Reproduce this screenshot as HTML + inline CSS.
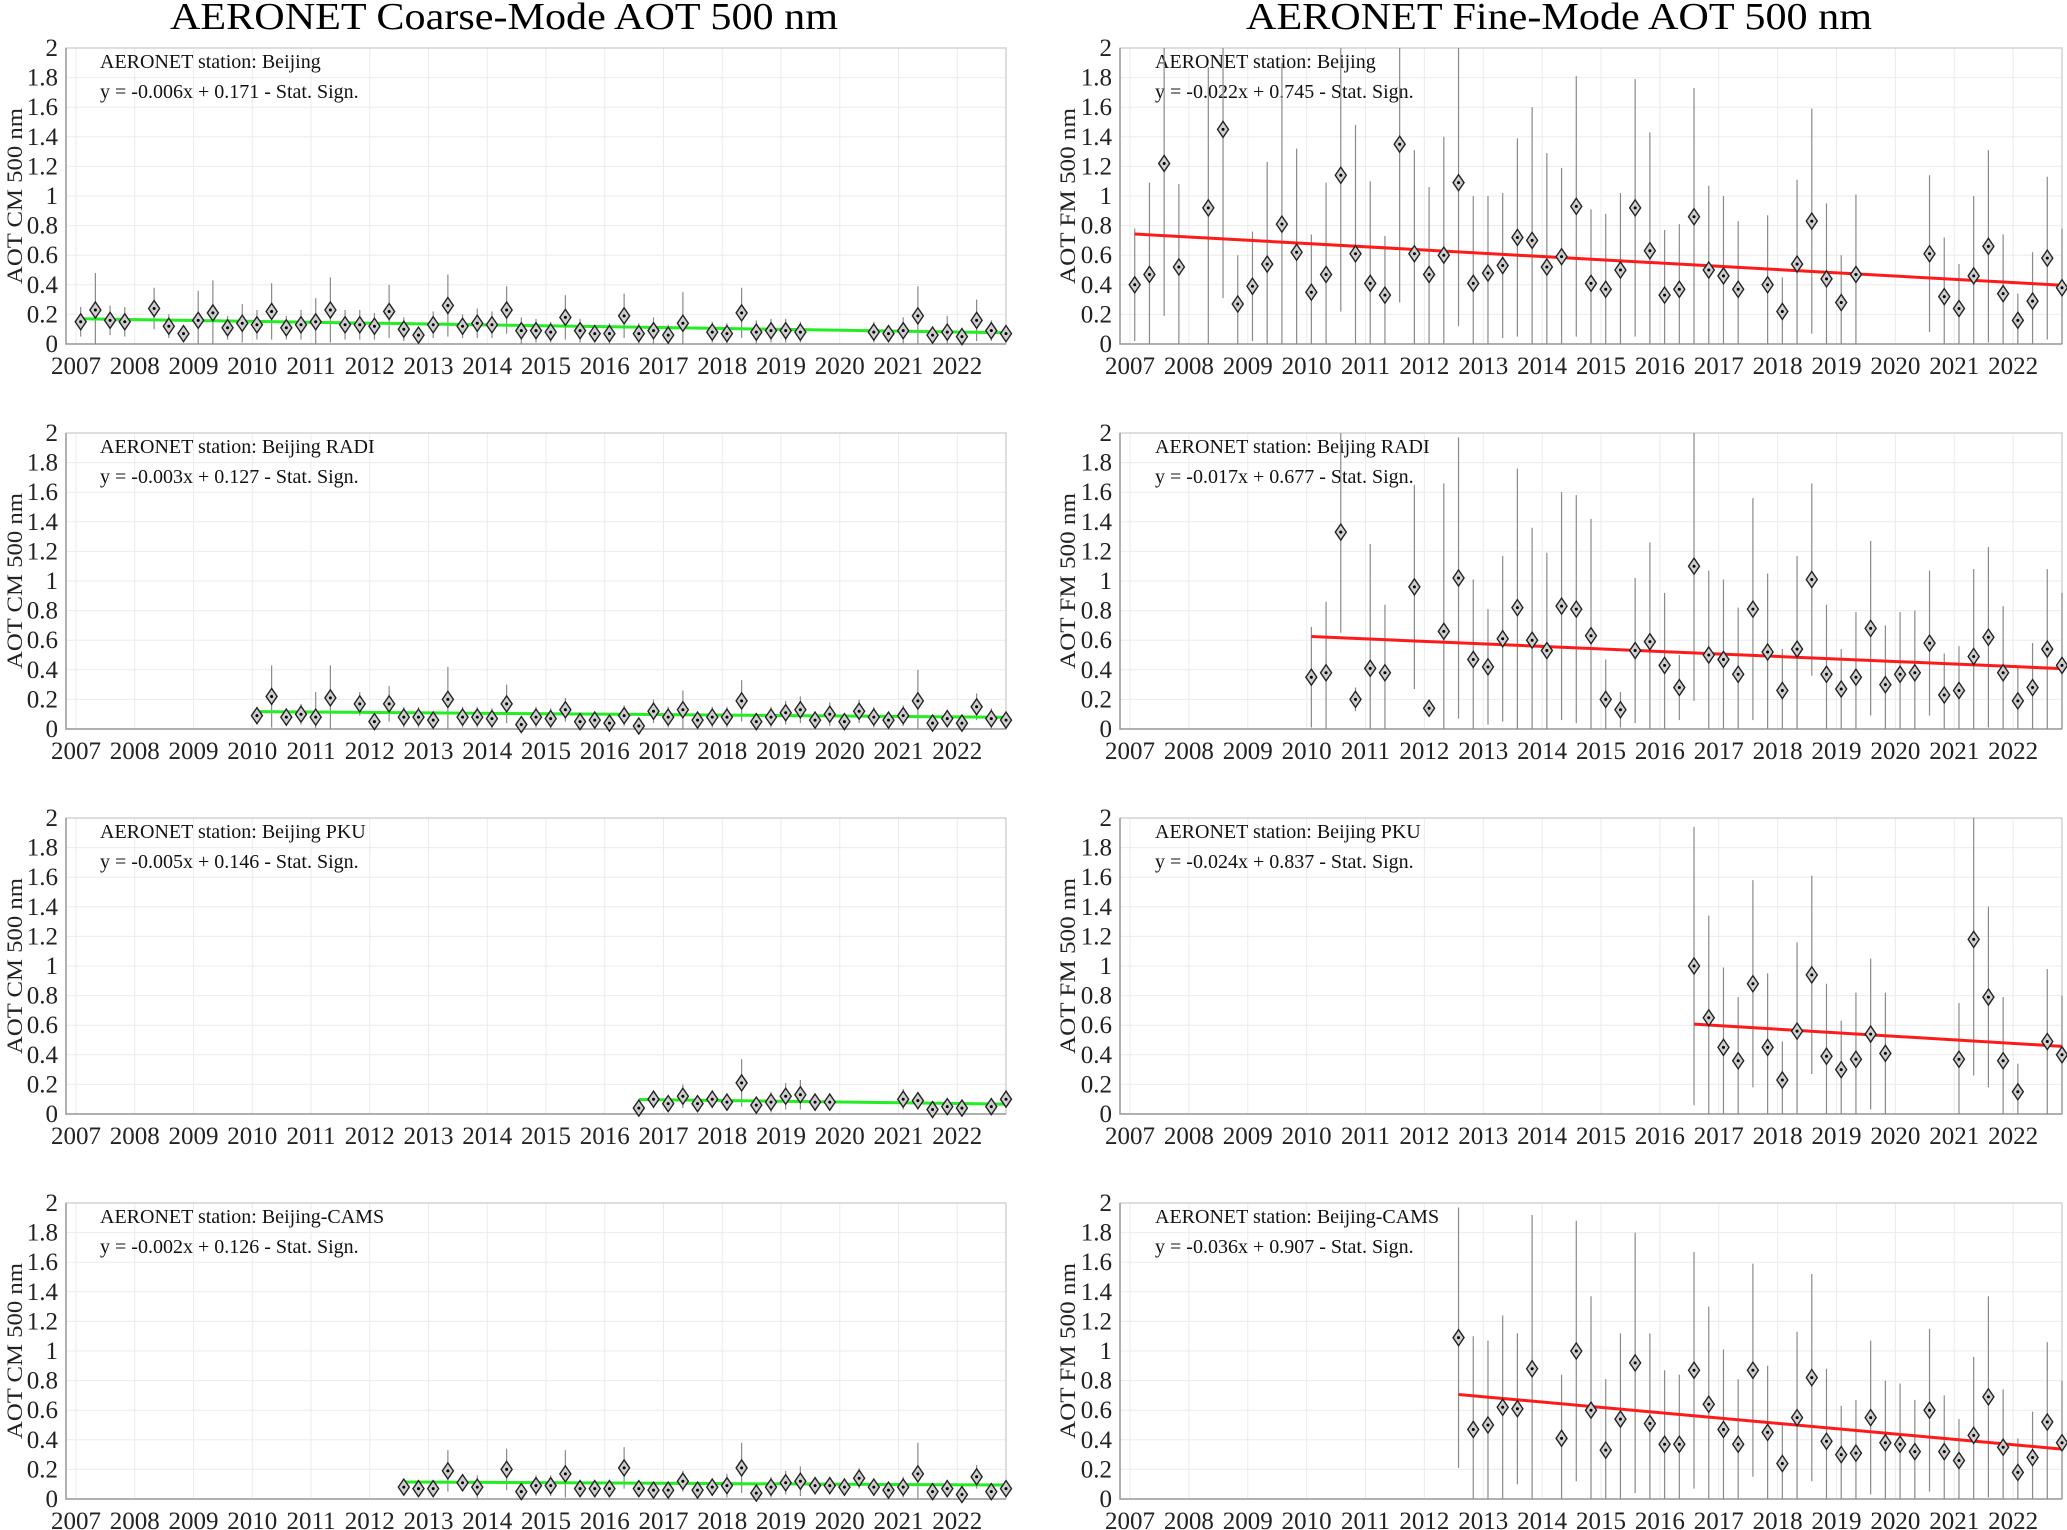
<!DOCTYPE html>
<html><head><meta charset="utf-8"><title>AERONET AOT 500 nm</title>
<style>
html,body{margin:0;padding:0;background:#fff;}
svg{display:block;}
svg text{font-family:"Liberation Serif","DejaVu Serif",serif;}
</style></head>
<body>
<svg id="chart" width="2067" height="1530" viewBox="0 0 2067 1530" xmlns="http://www.w3.org/2000/svg" font-family="Liberation Serif, serif">
<text font-family="Liberation Serif, serif" x="504" y="29" text-anchor="middle" font-size="38" textLength="668" lengthAdjust="spacingAndGlyphs">AERONET Coarse-Mode AOT 500 nm</text>
<text font-family="Liberation Serif, serif" x="1559" y="29" text-anchor="middle" font-size="38" textLength="626" lengthAdjust="spacingAndGlyphs">AERONET Fine-Mode AOT 500 nm</text>
</svg>
<script>
// ---- data (quarter index k: t = 2007.08 + 0.25*k) ----
const yearTicks = [2007,2008,2009,2010,2011,2012,2013,2014,2015,2016,2017,2018,2019,2020,2021,2022];
const yTicks = [0,0.2,0.4,0.6,0.8,1,1.2,1.4,1.6,1.8,2];
const yTickLabels = ["0","0.2","0.4","0.6","0.8","1","1.2","1.4","1.6","1.8","2"];
const stationNames = ["Beijing","Beijing RADI","Beijing PKU","Beijing-CAMS"];

const cmBeijingK = [0,1,2,3,5,6,7,8,9,10,11,12,13,14,15,16,17,18,19,20,21,22,23,24,25,26,27,28,29,30,31,32,33,34,35,36,37,38,39,40,41,43,44,45,46,47,48,49,54,55,56,57,58,59,60,61,62,63];
const cmBeijingMean = [.15,.23,.16,.15,.24,.12,.07,.16,.21,.11,.14,.13,.22,.11,.13,.15,.23,.13,.13,.12,.22,.10,.06,.13,.26,.12,.14,.13,.23,.09,.09,.08,.18,.09,.07,.07,.19,.07,.09,.06,.14,.08,.07,.21,.08,.09,.09,.08,.08,.07,.09,.19,.06,.08,.05,.16,.09,.07];
const cmBeijingStd = [.10,.25,.10,.10,.14,.08,.05,.20,.22,.08,.13,.10,.19,.08,.10,.16,.22,.10,.10,.09,.18,.08,.05,.09,.21,.08,.10,.09,.16,.09,.08,.07,.15,.08,.06,.07,.15,.07,.09,.07,.21,.07,.07,.17,.08,.08,.08,.07,.07,.06,.09,.20,.06,.11,.06,.14,.07,.06];

const cmRadiK = [12,13,14,15,16,17,19,20,21,22,23,24,25,26,27,28,29,30,31,32,33,34,35,36,37,38,39,40,41,42,43,44,45,46,47,48,49,50,51,52,53,54,55,56,57,58,59,60,61,62,63];
const cmRadiMean = [.09,.22,.08,.10,.08,.21,.17,.05,.17,.08,.08,.06,.20,.08,.08,.07,.17,.03,.08,.07,.13,.05,.06,.04,.09,.02,.12,.08,.13,.06,.08,.08,.19,.05,.08,.11,.13,.06,.10,.05,.12,.08,.06,.09,.19,.04,.07,.04,.15,.07,.06];
const cmRadiStd = [.06,.21,.06,.07,.17,.22,.08,.05,.12,.07,.07,.06,.22,.07,.07,.07,.13,.04,.07,.07,.08,.05,.06,.05,.07,.04,.08,.07,.13,.06,.07,.07,.14,.05,.07,.08,.09,.06,.08,.05,.08,.07,.05,.07,.21,.05,.06,.05,.09,.07,.06];

const cmPkuK = [38,39,40,41,42,43,44,45,46,47,48,49,50,51,56,57,58,59,60,62,63];
const cmPkuMean = [.04,.10,.07,.12,.07,.10,.08,.21,.06,.08,.12,.13,.08,.08,.10,.09,.03,.05,.04,.05,.10];
const cmPkuStd = [.04,.06,.05,.08,.05,.06,.06,.16,.05,.07,.09,.10,.06,.06,.07,.06,.03,.05,.04,.05,.06];

const cmCamsK = [22,23,24,25,26,27,29,30,31,32,33,34,35,36,37,38,39,40,41,42,43,44,45,46,47,48,49,50,51,52,53,54,55,56,57,58,59,60,61,62,63];
const cmCamsMean = [.08,.07,.07,.19,.11,.08,.20,.05,.09,.09,.17,.07,.07,.07,.21,.07,.06,.06,.12,.06,.08,.09,.21,.04,.08,.11,.12,.09,.09,.08,.14,.08,.06,.08,.17,.05,.07,.03,.15,.05,.07];
const cmCamsStd = [.04,.04,.05,.14,.06,.08,.14,.05,.07,.07,.16,.06,.06,.06,.14,.05,.05,.05,.07,.06,.06,.08,.17,.05,.07,.08,.10,.06,.06,.06,.07,.06,.05,.07,.21,.05,.06,.04,.08,.05,.05];

const fmBeijingK = cmBeijingK.slice();
const fmBeijingMean = [.40,.47,1.22,.52,.92,1.45,.27,.39,.54,.81,.62,.35,.47,1.14,.61,.41,.33,1.35,.61,.47,.60,1.09,.41,.48,.53,.72,.70,.52,.59,.93,.41,.37,.50,.92,.63,.33,.37,.86,.50,.46,.37,.40,.22,.54,.83,.44,.28,.47,.61,.32,.24,.46,.66,.34,.16,.29,.58,.38];
const fmBeijingStd = [.38,.62,1.03,.56,.95,1.14,.33,.37,.69,1.09,.70,.39,.62,.92,.87,.69,.40,1.07,.70,.59,.80,.97,.59,.52,.49,.67,.90,.77,.60,.88,.50,.51,.52,.87,.80,.44,.44,.87,.57,.54,.46,.47,.23,.57,.76,.51,.32,.54,.53,.40,.30,.54,.65,.40,.18,.33,.55,.40];

const fmRadiK = cmRadiK.slice();
const fmRadiMean = [.35,.38,1.33,.20,.41,.38,.96,.14,.66,1.02,.47,.42,.61,.82,.60,.53,.83,.81,.63,.20,.13,.53,.59,.43,.28,1.10,.50,.47,.37,.81,.52,.26,.54,1.01,.37,.27,.35,.68,.30,.37,.38,.58,.23,.26,.49,.62,.38,.19,.28,.54,.43];
const fmRadiStd = [.34,.48,.68,.08,.84,.46,.69,.02,1.0,.95,.54,.39,.56,.94,.76,.66,.77,.77,.79,.27,.12,.49,.67,.49,.22,.91,.57,.54,.45,.75,.53,.28,.63,.65,.47,.27,.44,.59,.40,.42,.42,.49,.28,.30,.59,.61,.45,.24,.30,.54,.49];

const fmPkuK = cmPkuK.slice();
const fmPkuMean = [1.0,.65,.45,.36,.88,.45,.23,.56,.94,.39,.30,.37,.54,.41,.37,1.18,.79,.36,.15,.49,.40];
const fmPkuStd = [.94,.69,.54,.43,.70,.50,.26,.60,.67,.49,.33,.45,.51,.41,.38,.92,.61,.43,.19,.49,.40];

const fmCamsK = cmCamsK.slice();
const fmCamsMean = [1.09,.47,.50,.62,.61,.88,.41,1.0,.60,.33,.54,.92,.51,.37,.37,.87,.64,.47,.37,.87,.45,.24,.55,.82,.39,.30,.31,.55,.38,.37,.32,.60,.32,.26,.43,.69,.35,.18,.28,.52,.38];
const fmCamsStd = [.88,.63,.57,.62,.51,1.04,.43,.88,.77,.48,.58,.88,.61,.50,.47,.80,.66,.54,.44,.72,.45,.26,.58,.70,.49,.33,.36,.52,.42,.41,.35,.55,.38,.28,.53,.68,.39,.23,.31,.54,.42];

const cmSlopes = [-0.006,-0.003,-0.005,-0.002];
const cmIntercepts = [0.171,0.127,0.146,0.126];
const fmSlopes = [-0.022,-0.017,-0.024,-0.036];
const fmIntercepts = [0.745,0.677,0.837,0.907];

// ---- layout ----
const NS = "http://www.w3.org/2000/svg";
const FONT = "Liberation Serif, serif";
const svg = document.getElementById('chart');
const rowTops = [48,433,818,1203];
const plotH = 296;
const cols = [{x0:66,x1:1006,yl:"AOT CM 500 nm",ylx:22,color:"#22ee22",slopes:cmSlopes,ints:cmIntercepts,
  series:[[cmBeijingK,cmBeijingMean,cmBeijingStd],[cmRadiK,cmRadiMean,cmRadiStd],[cmPkuK,cmPkuMean,cmPkuStd],[cmCamsK,cmCamsMean,cmCamsStd]],tag:"cm"},
  {x0:1120,x1:2062,yl:"AOT FM 500 nm",ylx:1075,color:"#ff1a1a",slopes:fmSlopes,ints:fmIntercepts,
  series:[[fmBeijingK,fmBeijingMean,fmBeijingStd],[fmRadiK,fmRadiMean,fmRadiStd],[fmPkuK,fmPkuMean,fmPkuStd],[fmCamsK,fmCamsMean,fmCamsStd]],tag:"fm"}];
const T0 = 2006.83, T1 = 2022.83;
function kToT(k){ return 2007.08 + 0.25*k; }
function el(tag, attrs, parent){
  const e = document.createElementNS(NS, tag);
  for (const a in attrs) e.setAttribute(a, attrs[a]);
  if (tag === 'text') e.setAttribute('font-family', FONT);
  parent.appendChild(e); return e;
}

cols.forEach((c, ci) => {
  rowTops.forEach((top, ri) => {
    const bot = top + plotH;
    const xs = t => c.x0 + (t - T0) / (T1 - T0) * (c.x1 - c.x0);
    const ys = v => bot - v / 2 * plotH;
    const g = el('g', {}, svg);
    
    
    yTicks.forEach((v, i) => {
      const gl = el('line', {x1:c.x0, x2:c.x1, y1:ys(v), y2:ys(v), stroke:'#ebebeb', 'stroke-width':1}, g);
      
      
      const tl = el('text', {x:c.x0-8, y:ys(v)+8, 'text-anchor':'end', 'font-size':25, fill:'#222'}, g);
      
      
      tl.textContent = yTickLabels[i];
    });
    yearTicks.forEach(yr => {
      const x = xs(yr);
      const gl = el('line', {x1:x, x2:x, y1:top, y2:bot, stroke:'#ebebeb', 'stroke-width':1}, g);
      
      
      const tl = el('text', {x:x, y:bot+30, 'text-anchor':'middle', 'font-size':25, fill:'#222'}, g);
      
      
      tl.textContent = String(yr);
    });
    const box = el('rect', {x:c.x0, y:top, width:c.x1-c.x0, height:plotH, fill:'none', stroke:'#c8c8c8', 'stroke-width':1.2}, g);
    
    
    const ax = el('path', {d:`M${c.x0},${top} V${bot} H${c.x1}`, fill:'none', stroke:'#999', 'stroke-width':1.5}, g);
    
    
    const cy = top + plotH/2;
    const yl = el('text', {x:0, y:0, transform:`translate(${c.ylx},${cy}) rotate(-90)`, 'text-anchor':'middle', 'font-size':22, fill:'#222', textLength:176, lengthAdjust:'spacingAndGlyphs'}, g);
    
    
    yl.textContent = c.yl;
    const ax0 = c.x0 + (ci === 0 ? 34 : 35);
    const a1 = el('text', {x:ax0, y:top+20, 'font-size':20, fill:'#111'}, g);
    
    
    a1.textContent = 'AERONET station: ' + stationNames[ri];
    const sl = c.slopes[ri], ic = c.ints[ri];
    const a2 = el('text', {x:ax0, y:top+50, 'font-size':20, fill:'#111'}, g);
    
    
    a2.textContent = 'y = ' + sl.toFixed(3) + 'x + ' + ic.toFixed(3) + ' - Stat. Sign.';
    const [K, M, S] = c.series[ri];
    K.forEach((k, i) => {
      const x = xs(kToT(k));
      const lo = Math.max(0, M[i] - S[i]), hi = Math.min(2, M[i] + S[i]);
      const eb = el('line', {x1:x, x2:x, y1:ys(lo), y2:ys(hi), stroke:'#8a8a8a', 'stroke-width':1.2}, g);
      
      
    });
    const tA = kToT(K[0]), tB = kToT(K[K.length-1]);
    const tr = el('line', {x1:xs(tA), y1:ys(ic + sl*(tA-2007)), x2:xs(tB), y2:ys(ic + sl*(tB-2007)), stroke:c.color, 'stroke-width':3}, g);
    
    
    K.forEach((k, i) => {
      const x = xs(kToT(k)), y = ys(M[i]);
      const d = el('path', {d:`M${x},${y-8} L${x+5.5},${y} L${x},${y+8} L${x-5.5},${y} Z`, fill:'#cfcfcf', stroke:'#222', 'stroke-width':1.4}, g);
      
      
      const dot = el('circle', {cx:x, cy:y, r:1.5, fill:'#000'}, g);
      
      
    });
  });
});
</script>
</body></html>
